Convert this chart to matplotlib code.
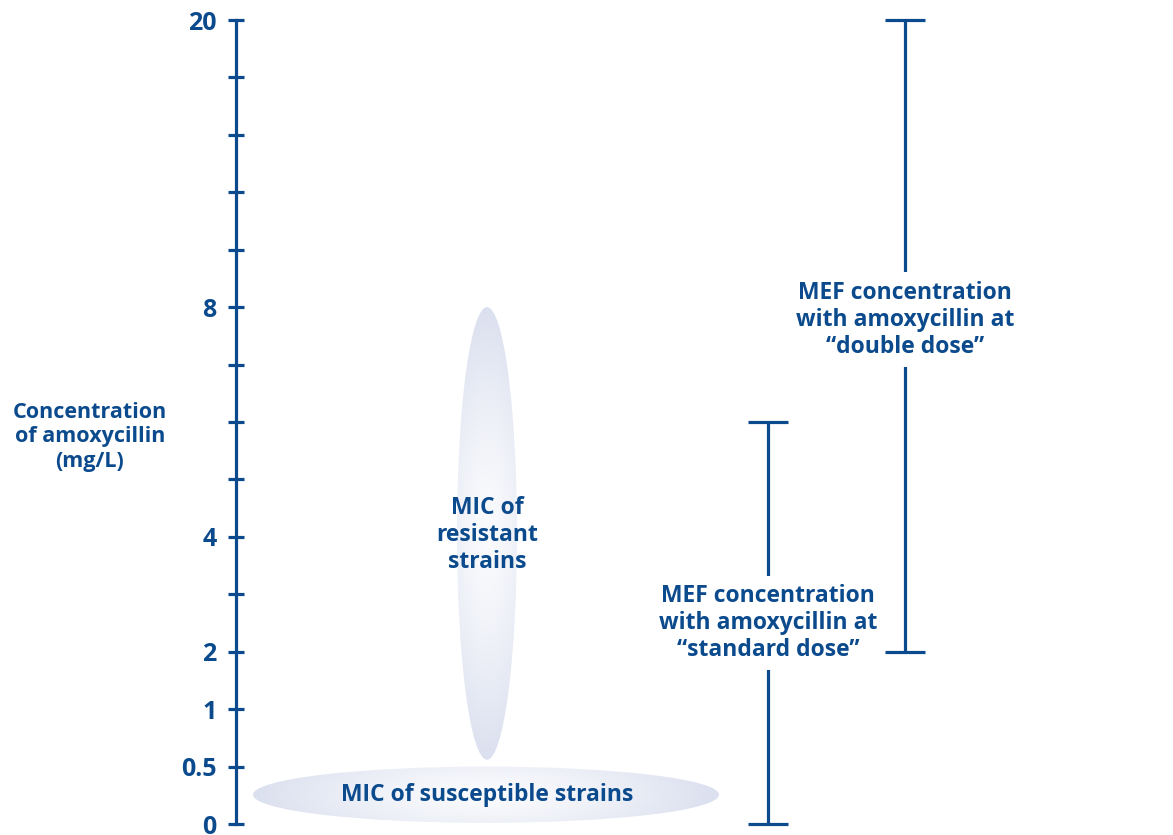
# MIC vs. MEF concentration of amoxycillin
# Ladder-style chart: evenly spaced concentration steps



# Import libraries ............................................................

import numpy as np
import matplotlib.pyplot as plt
from matplotlib.patches import Ellipse



# 1. Data .....................................................................

# Concentration ladder (mg/L), one entry per tick step; blanks are unlabeled
tick_labels = ["0", "0.5", "1", "2", "", "4", "", "", "", "8", "", "", "", "", "20"]

# MEF ranges, in tick steps (low, high)
standard_dose = (0, 7)
double_dose = (3, 14)

# MIC zones, in tick steps (low, high)
resistant_mic = (1.12, 9)
susceptible_mic = (0.02, 1.0)

y_label = "Concentration\nof amoxycillin\n(mg/L)"
standard_text = "MEF concentration\nwith amoxycillin at\n\u201cstandard dose\u201d"
double_text = "MEF concentration\nwith amoxycillin at\n\u201cdouble dose\u201d"
resistant_text = "MIC of\nresistant\nstrains"
susceptible_text = "MIC of susceptible strains"



# 2. Style ....................................................................

navy = "#0b4a8c"
edge_col = np.array([219, 224, 239]) / 255
mid_col = np.array([250, 251, 253]) / 255
plt.rcParams["font.family"] = ["Open Sans", "DejaVu Sans"]
plt.rcParams["font.weight"] = "bold"



# 3. Plot .....................................................................

fig = plt.figure(figsize = (11.73, 8.35), dpi = 100)
ax = fig.add_axes([0, 0, 1, 1])
ax.set_xlim(0, 1173)
step = (815 - 11) / 14
ax.set_ylim(-11 / step, 14 + 20 / step)

# Axis spine and ticks
for s in ["top", "right", "bottom"]:
    ax.spines[s].set_visible(False)
ax.spines["left"].set_position(("data", 236))
ax.spines["left"].set_color(navy)
ax.spines["left"].set_linewidth(2.3)
ax.spines["left"].set_bounds(0, len(tick_labels) - 1)
ax.set_yticks(range(len(tick_labels)))
ax.set_yticklabels(tick_labels)
ax.tick_params(axis = "y", direction = "inout", length = 12, width = 2.3,
               color = navy, labelcolor = navy, labelsize = 18, pad = 8)
for lab in ax.get_yticklabels():
    lab.set_fontweight("bold")
ax.set_xticks([])
ax.text(90, 6.74, y_label, ha = "center", va = "center", color = navy,
        fontsize = 15.5, fontweight = "bold", linespacing = 1.22)


# Shaded MIC ellipses with soft gradient
def shaded_ellipse(xc, w, y0, y1, vertical):
    yc = (y0 + y1) / 2
    h = y1 - y0
    ell = Ellipse((xc, yc), w, h, facecolor = "none", edgecolor = "none")
    ax.add_patch(ell)
    gx, gy = np.meshgrid(np.linspace(-1, 1, 200), np.linspace(-1, 1, 400))
    if vertical:
        r = np.clip(np.sqrt(0.25 * gx ** 2 + gy ** 2), 0, 1)
    else:
        r = np.clip(np.sqrt(gx ** 2 + 0.25 * gy ** 2), 0, 1)
    t = r ** 1.4
    img = mid_col * (1 - t[..., None]) + edge_col * t[..., None]
    im = ax.imshow(img, extent = (xc - w / 2, xc + w / 2, y0, y1),
                   origin = "lower", aspect = "auto", zorder = 1)
    im.set_clip_path(ell)


shaded_ellipse(487, 60, resistant_mic[0], resistant_mic[1], True)
shaded_ellipse(486, 466, susceptible_mic[0], susceptible_mic[1], False)
ax.text(487, 5.03, resistant_text, ha = "center", va = "center", color = navy,
        fontsize = 16.5, fontweight = "bold", linespacing = 1.18, zorder = 3)
ax.text(487, np.mean(susceptible_mic), susceptible_text, ha = "center", va = "center",
        color = navy, fontsize = 16.5, fontweight = "bold", zorder = 3)

# MEF ranges as error bars
for xpos, rng, label, ytxt in [(768, standard_dose, standard_text, 3.5),
                               (905, double_dose, double_text, 8.78)]:
    mid = (rng[0] + rng[1]) / 2
    half = (rng[1] - rng[0]) / 2
    ax.errorbar(xpos, mid, yerr = half, fmt = "none", ecolor = navy,
                elinewidth = 2.3, capsize = 14.5, capthick = 2.3, zorder = 2)
    ax.text(xpos, ytxt, label, ha = "center", va = "center", color = navy,
            fontsize = 16.5, fontweight = "bold", linespacing = 1.18, zorder = 4,
            bbox = dict(facecolor = "white", edgecolor = "none", pad = 6))

fig.savefig("out.png", dpi = 100)
